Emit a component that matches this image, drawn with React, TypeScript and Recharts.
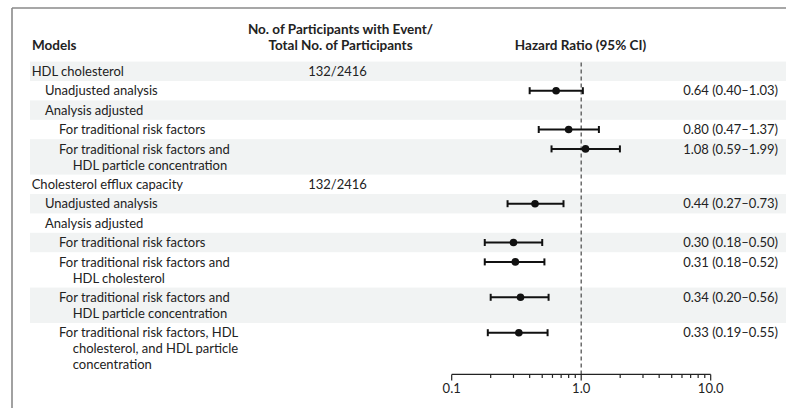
import React from "react";
import { ComposedChart, Scatter, ErrorBar, XAxis, YAxis, ReferenceLine } from "recharts";

// ---------- data ----------
const rowLabels: string[][] = [
  ["HDL cholesterol"],
  ["Unadjusted analysis"],
  ["Analysis adjusted"],
  ["For traditional risk factors"],
  ["For traditional risk factors and", "HDL particle concentration"],
  ["Cholesterol efflux capacity"],
  ["Unadjusted analysis"],
  ["Analysis adjusted"],
  ["For traditional risk factors"],
  ["For traditional risk factors and", "HDL cholesterol"],
  ["For traditional risk factors and", "HDL particle concentration"],
  ["For traditional risk factors, HDL", "cholesterol, and HDL particle", "concentration"],
];
const rowLevels = [0, 1, 1, 2, 2, 0, 1, 1, 2, 2, 2, 2];
const eventCounts = ["132/2416", "", "", "", "", "132/2416", "", "", "", "", "", ""];
const hazardRatios: (number | null)[] = [null, 0.64, null, 0.8, 1.08, null, 0.44, null, 0.3, 0.31, 0.34, 0.33];
const ciLower: (number | null)[] = [null, 0.4, null, 0.47, 0.59, null, 0.27, null, 0.18, 0.18, 0.2, 0.19];
const ciUpper: (number | null)[] = [null, 1.03, null, 1.37, 1.99, null, 0.73, null, 0.5, 0.52, 0.56, 0.55];
const xTicks = [0.1, 0.2, 0.3, 0.4, 0.5, 0.6, 0.7, 0.8, 0.9, 1, 2, 3, 4, 5, 6, 7, 8, 9, 10];
const majorTicks = [0.1, 1, 10];
const majorTickLabels = ["0.1", "1.0", "10.0"];
const headerModels = "Models";
const headerCounts = ["No. of Participants with Event/", "Total No. of Participants"];
const headerHR = "Hazard Ratio (95% CI)";

// ---------- layout / style ----------
const W = 786;
const H = 408;
const FONT = "Lato, 'Liberation Sans', sans-serif";
const FS = 13;
const HFS = 13.5;
const TEXT = "#222";
const BAND = "#f1f3f3";
const ROW_H = 19.4;
const LINE_H = 16;
const PLOT_TOP = 61.6;
const PLOT_LEFT = 451.7;
const PLOT_RIGHT_W = 75.3;
const LEVEL_X = [31.7, 45, 59];
const CONT_INDENT = 13.7;

const rowHeights = rowLabels.map((l) => ROW_H + (l.length - 1) * LINE_H);
const rowTops: number[] = [];
rowHeights.reduce((acc, h) => {
  rowTops.push(acc);
  return acc + h;
}, 0);
const TOTAL = rowHeights.reduce((a, b) => a + b, 0);
const rowCenters = rowTops.map((t) => t + ROW_H / 2);
const X_AXIS_H = 20;
const MARGIN_BOTTOM = H - (PLOT_TOP + TOTAL) - X_AXIS_H;

const chartData = hazardRatios
  .map((hr, i) =>
    hr == null
      ? null
      : { y: rowCenters[i], hr, err: [hr - (ciLower[i] as number), (ciUpper[i] as number) - hr] }
  )
  .filter((d) => d != null) as { y: number; hr: number; err: number[] }[];

const rowIndexOf = (v: number) => rowCenters.findIndex((c) => Math.abs(c - v) < 0.01);

const LeftTick = (props: any) => {
  const { y, payload } = props;
  const i = rowIndexOf(payload.value);
  if (i < 0) return null;
  const lines = rowLabels[i];
  const x0 = LEVEL_X[rowLevels[i]];
  return (
    <g>
      {lines.map((ln, k) => (
        <text
          key={k}
          x={k === 0 ? x0 : x0 + CONT_INDENT}
          y={y + k * LINE_H + 4.6}
          fontFamily={FONT}
          fontSize={FS}
          fill={TEXT}
        >
          {ln}
        </text>
      ))}
      {eventCounts[i] ? (
        <text x={337.5} y={y + 4.6} textAnchor="middle" fontFamily={FONT} fontSize={FS} fill={TEXT}>
          {eventCounts[i]}
        </text>
      ) : null}
    </g>
  );
};

const RightTick = (props: any) => {
  const { y, payload } = props;
  const i = rowIndexOf(payload.value);
  if (i < 0 || hazardRatios[i] == null) return null;
  const txt = `${(hazardRatios[i] as number).toFixed(2)} (${(ciLower[i] as number).toFixed(2)}\u2013${(
    ciUpper[i] as number
  ).toFixed(2)})`;
  return (
    <text x={778} y={y + 4.6} textAnchor="end" fontFamily={FONT} fontSize={FS} fill={TEXT}>
      {txt}
    </text>
  );
};

const XTick = (props: any) => {
  const { x, y, payload } = props;
  const mi = majorTicks.findIndex((m) => Math.abs(m - payload.value) < 1e-9);
  const major = mi >= 0;
  return (
    <g>
      <line x1={x} x2={x} y1={y} y2={y + (major ? 6 : 3.5)} stroke="#222" strokeWidth={1.2} />
      {major ? (
        <text x={x} y={y + 19} textAnchor="middle" fontFamily={FONT} fontSize={FS} fill={TEXT}>
          {majorTickLabels[mi]}
        </text>
      ) : null}
    </g>
  );
};

const Dot = (props: any) => <circle cx={props.cx} cy={props.cy} r={3.8} fill="#111" />;

export default function App() {
  return (
    <div style={{ position: "absolute", left: 0, top: 0, width: W, height: H, background: "#fff", overflow: "hidden" }}>
      <svg width={W} height={H} style={{ position: "absolute", left: 0, top: 0 }}>
        {rowTops.map((t, i) =>
          i % 2 === 0 ? (
            <rect key={i} x={30} y={PLOT_TOP + t} width={W - 30} height={rowHeights[i]} fill={BAND} />
          ) : null
        )}
        <line x1={12} y1={8} x2={W} y2={8} stroke="#8a8a8a" strokeWidth={1.6} />
        <line x1={12} y1={8} x2={12} y2={H} stroke="#8a8a8a" strokeWidth={1.6} />
        <text x={32} y={50} fontFamily={FONT} fontSize={HFS} fontWeight={700} fill={TEXT}>
          {headerModels}
        </text>
        {headerCounts.map((h, k) => (
          <text
            key={k}
            x={340.5}
            y={34 + k * 16}
            textAnchor="middle"
            fontFamily={FONT}
            fontSize={HFS}
            fontWeight={700}
            fill={TEXT}
          >
            {h}
          </text>
        ))}
        <text x={580.5} y={50} textAnchor="middle" fontFamily={FONT} fontSize={HFS} fontWeight={700} fill={TEXT}>
          {headerHR}
        </text>
      </svg>
      <div style={{ position: "absolute", left: 0, top: 0 }}>
        <ComposedChart
          width={W}
          height={H}
          data={chartData}
          margin={{ top: PLOT_TOP, right: 0, bottom: MARGIN_BOTTOM, left: 0 }}
        >
          <XAxis
            dataKey="hr"
            type="number"
            scale="log"
            domain={[0.1, 10]}
            ticks={xTicks}
            interval={0}
            allowDataOverflow
            height={X_AXIS_H}
            tickSize={0}
            tickMargin={0}
            tickLine={false}
            axisLine={{ stroke: "#222", strokeWidth: 1.2 }}
            tick={<XTick />}
          />
          <YAxis
            yAxisId="left"
            dataKey="y"
            type="number"
            domain={[0, TOTAL]}
            reversed
            allowDataOverflow
            ticks={rowCenters}
            interval={0}
            width={PLOT_LEFT}
            tickSize={0}
            tickMargin={0}
            axisLine={false}
            tickLine={false}
            tick={<LeftTick />}
          />
          <YAxis
            yAxisId="right"
            orientation="right"
            type="number"
            domain={[0, TOTAL]}
            reversed
            allowDataOverflow
            ticks={rowCenters}
            interval={0}
            width={PLOT_RIGHT_W}
            tickSize={0}
            tickMargin={0}
            axisLine={false}
            tickLine={false}
            tick={<RightTick />}
          />
          <ReferenceLine yAxisId="left" x={1} stroke="#555" strokeWidth={1.3} strokeDasharray="4 3" />
          <Scatter yAxisId="left" dataKey="y" shape={<Dot />} isAnimationActive={false}>
            <ErrorBar dataKey="err" direction="x" width={3.5} stroke="#111" strokeWidth={2} />
          </Scatter>
        </ComposedChart>
      </div>
    </div>
  );
}
